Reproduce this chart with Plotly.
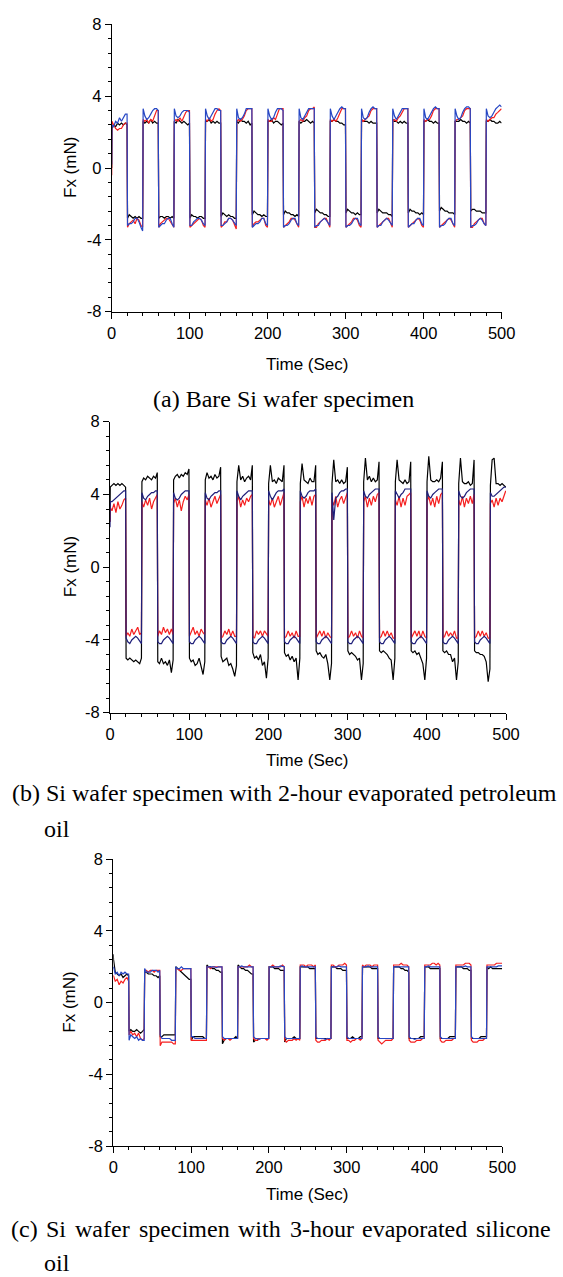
import plotly.graph_objects as go

W, H = 563, 1277

# ---------------- sample times (s) ----------------
time_s = [0,
    0.3, 2.5, 5, 7.5, 10, 12.5, 15, 17.5, 19.7,
    20.3, 22.5, 25, 27.5, 30, 32.5, 35, 37.5, 39.7,
    40.3, 42.5, 45, 47.5, 50, 52.5, 55, 57.5, 59.7,
    60.3, 62.5, 65, 67.5, 70, 72.5, 75, 77.5, 79.7,
    80.3, 82.5, 85, 87.5, 90, 92.5, 95, 97.5, 99.7,
    100.3, 102.5, 105, 107.5, 110, 112.5, 115, 117.5, 119.7,
    120.3, 122.5, 125, 127.5, 130, 132.5, 135, 137.5, 139.7,
    140.3, 142.5, 145, 147.5, 150, 152.5, 155, 157.5, 159.7,
    160.3, 162.5, 165, 167.5, 170, 172.5, 175, 177.5, 179.7,
    180.3, 182.5, 185, 187.5, 190, 192.5, 195, 197.5, 199.7,
    200.3, 202.5, 205, 207.5, 210, 212.5, 215, 217.5, 219.7,
    220.3, 222.5, 225, 227.5, 230, 232.5, 235, 237.5, 239.7,
    240.3, 242.5, 245, 247.5, 250, 252.5, 255, 257.5, 259.7,
    260.3, 262.5, 265, 267.5, 270, 272.5, 275, 277.5, 279.7,
    280.3, 282.5, 285, 287.5, 290, 292.5, 295, 297.5, 299.7,
    300.3, 302.5, 305, 307.5, 310, 312.5, 315, 317.5, 319.7,
    320.3, 322.5, 325, 327.5, 330, 332.5, 335, 337.5, 339.7,
    340.3, 342.5, 345, 347.5, 350, 352.5, 355, 357.5, 359.7,
    360.3, 362.5, 365, 367.5, 370, 372.5, 375, 377.5, 379.7,
    380.3, 382.5, 385, 387.5, 390, 392.5, 395, 397.5, 399.7,
    400.3, 402.5, 405, 407.5, 410, 412.5, 415, 417.5, 419.7,
    420.3, 422.5, 425, 427.5, 430, 432.5, 435, 437.5, 439.7,
    440.3, 442.5, 445, 447.5, 450, 452.5, 455, 457.5, 459.7,
    460.3, 462.5, 465, 467.5, 470, 472.5, 475, 477.5, 479.7,
    480.3, 482.5, 485, 487.5, 490, 492.5, 495, 497.5, 499.7]

# ---------------- (a) Bare Si wafer ----------------
a_black = [0.0,
    2.2, 2.4, 2.3, 2.5, 2.4, 2.5, 2.4, 2.5, 2.4,
    -2.8, -2.6, -2.7, -2.8, -2.7, -2.8, -2.7, -2.8, -2.8,
    2.6, 2.5, 2.6, 2.5, 2.7, 2.5, 2.6, 2.5, 2.5,
    -2.8, -2.7, -2.7, -2.8, -2.7, -2.7, -2.8, -2.7, -2.8,
    2.6, 2.5, 2.7, 2.6, 2.5, 2.6, 2.5, 2.4, 2.5,
    -2.8, -2.6, -2.7, -2.7, -2.8, -2.7, -2.7, -2.8, -2.8,
    2.6, 2.6, 2.7, 2.5, 2.6, 2.5, 2.6, 2.5, 2.5,
    -2.7, -2.5, -2.6, -2.7, -2.6, -2.7, -2.7, -2.8, -2.8,
    2.6, 2.5, 2.7, 2.6, 2.6, 2.5, 2.6, 2.4, 2.5,
    -2.6, -2.4, -2.5, -2.6, -2.6, -2.7, -2.6, -2.7, -2.7,
    2.6, 2.6, 2.7, 2.5, 2.6, 2.6, 2.5, 2.4, 2.5,
    -2.6, -2.4, -2.5, -2.5, -2.6, -2.6, -2.7, -2.6, -2.7,
    2.6, 2.5, 2.6, 2.6, 2.7, 2.6, 2.5, 2.6, 2.5,
    -2.5, -2.3, -2.4, -2.5, -2.5, -2.6, -2.6, -2.7, -2.7,
    2.6, 2.6, 2.7, 2.6, 2.6, 2.5, 2.5, 2.4, 2.4,
    -2.5, -2.3, -2.4, -2.5, -2.5, -2.6, -2.5, -2.6, -2.6,
    2.7, 2.6, 2.6, 2.6, 2.5, 2.6, 2.5, 2.5, 2.5,
    -2.5, -2.3, -2.4, -2.5, -2.5, -2.5, -2.6, -2.6, -2.7,
    2.7, 2.6, 2.6, 2.5, 2.6, 2.5, 2.6, 2.5, 2.5,
    -2.5, -2.3, -2.4, -2.4, -2.5, -2.5, -2.6, -2.5, -2.6,
    2.6, 2.6, 2.7, 2.6, 2.6, 2.5, 2.6, 2.5, 2.5,
    -2.4, -2.2, -2.3, -2.4, -2.4, -2.5, -2.5, -2.5, -2.6,
    2.6, 2.6, 2.6, 2.7, 2.6, 2.6, 2.5, 2.6, 2.5,
    -2.4, -2.3, -2.3, -2.4, -2.4, -2.4, -2.5, -2.5, -2.5,
    2.6, 2.6, 2.7, 2.6, 2.6, 2.5, 2.5, 2.6, 2.5]

a_red = [-0.4,
    2.6, 2.4, 2.2, 2.1, 2.2, 2.2, 2.4, 2.5, 2.5,
    -3.3, -3.1, -3.0, -2.9, -3.1, -2.8, -2.9, -3.2, -3.3,
    2.7, 2.6, 2.7, 2.5, 2.7, 2.6, 2.9, 3.2, 3.2,
    -3.3, -3.1, -3.0, -2.9, -2.8, -2.8, -3.0, -3.2, -3.3,
    2.6, 2.7, 2.6, 2.8, 2.6, 2.9, 3.1, 3.2, 3.2,
    -3.3, -3.2, -3.1, -3.0, -2.9, -2.8, -2.9, -3.2, -3.3,
    2.7, 2.6, 2.8, 2.6, 2.7, 3.0, 3.2, 3.3, 3.2,
    -3.3, -3.2, -3.0, -3.0, -2.8, -2.8, -2.9, -3.2, -3.4,
    2.6, 2.7, 2.6, 2.7, 2.9, 3.2, 3.3, 3.3, 3.3,
    -3.3, -3.1, -3.0, -3.0, -2.9, -2.8, -2.8, -3.2, -3.3,
    2.7, 2.6, 2.6, 2.8, 2.7, 3.0, 3.3, 3.3, 3.3,
    -3.3, -3.2, -3.1, -3.0, -2.8, -2.8, -2.9, -3.1, -3.3,
    2.6, 2.7, 2.6, 2.8, 2.9, 3.2, 3.3, 3.3, 3.4,
    -3.3, -3.3, -3.1, -3.0, -2.9, -2.8, -2.8, -3.1, -3.3,
    2.7, 2.6, 2.7, 2.6, 2.8, 3.1, 3.3, 3.3, 3.3,
    -3.3, -3.2, -3.1, -3.0, -2.8, -2.8, -2.9, -3.2, -3.3,
    2.7, 2.6, 2.7, 2.8, 2.9, 3.2, 3.3, 3.3, 3.3,
    -3.3, -3.2, -3.1, -3.0, -2.9, -2.8, -2.8, -3.1, -3.3,
    2.6, 2.7, 2.6, 2.8, 2.9, 3.1, 3.3, 3.3, 3.3,
    -3.3, -3.2, -3.1, -3.0, -2.9, -2.8, -2.9, -3.2, -3.3,
    2.7, 2.6, 2.7, 2.7, 2.9, 3.2, 3.3, 3.3, 3.3,
    -3.3, -3.2, -3.1, -3.0, -2.9, -2.8, -2.9, -3.1, -3.3,
    2.6, 2.7, 2.7, 2.8, 2.9, 3.2, 3.3, 3.3, 3.3,
    -3.3, -3.3, -3.1, -3.0, -2.9, -2.8, -2.8, -3.1, -3.2,
    2.7, 2.6, 2.7, 2.8, 2.8, 3.0, 3.1, 3.2, 3.3]

a_blue = [0.2,
    2.4, 2.3, 2.6, 2.5, 2.8, 2.6, 2.8, 3.0, 3.0,
    -3.2, -3.1, -3.1, -3.0, -2.8, -2.8, -3.0, -3.3, -3.5,
    3.3, 2.9, 2.7, 2.8, 3.0, 3.2, 3.3, 3.3, 3.2,
    -3.3, -3.2, -3.1, -3.1, -2.9, -2.8, -2.8, -3.1, -3.3,
    3.3, 2.9, 2.8, 2.9, 3.1, 3.2, 3.2, 3.2, 3.1,
    -3.2, -3.2, -3.0, -2.9, -2.8, -2.8, -2.9, -3.1, -3.2,
    3.3, 2.9, 2.7, 2.9, 3.1, 3.3, 3.3, 3.2, 3.2,
    -3.2, -3.2, -3.1, -3.0, -2.8, -2.8, -2.9, -3.1, -3.2,
    3.3, 2.8, 2.7, 2.8, 3.0, 3.3, 3.3, 3.3, 3.3,
    -3.3, -3.2, -3.1, -3.1, -3.0, -2.8, -2.8, -3.1, -3.2,
    3.3, 2.9, 2.7, 2.8, 3.1, 3.3, 3.3, 3.3, 3.2,
    -3.3, -3.2, -3.2, -3.1, -2.9, -2.8, -2.8, -3.1, -3.2,
    3.3, 2.8, 2.7, 2.9, 3.1, 3.3, 3.3, 3.3, 3.3,
    -3.3, -3.2, -3.2, -3.0, -2.9, -2.8, -2.9, -3.1, -3.2,
    3.3, 2.9, 2.7, 2.9, 3.1, 3.3, 3.4, 3.3, 3.3,
    -3.3, -3.2, -3.2, -3.1, -2.9, -2.8, -2.8, -3.1, -3.2,
    3.3, 2.8, 2.7, 2.8, 3.1, 3.3, 3.4, 3.3, 3.3,
    -3.3, -3.2, -3.2, -3.0, -2.9, -2.8, -2.9, -3.1, -3.2,
    3.3, 2.9, 2.7, 2.9, 3.1, 3.3, 3.3, 3.3, 3.3,
    -3.3, -3.2, -3.1, -3.1, -2.9, -2.8, -2.8, -3.1, -3.2,
    3.3, 2.8, 2.7, 2.9, 3.1, 3.3, 3.4, 3.3, 3.3,
    -3.3, -3.2, -3.2, -3.1, -2.9, -2.8, -2.8, -3.1, -3.2,
    3.3, 2.9, 2.7, 2.8, 3.1, 3.3, 3.4, 3.4, 3.3,
    -3.3, -3.2, -3.2, -3.1, -2.9, -2.8, -2.9, -3.1, -3.2,
    3.3, 2.9, 2.8, 2.9, 3.1, 3.3, 3.4, 3.5, 3.4]

# ---------------- (b) 2-hour evaporated petroleum oil ----------------
b_black = [2.5,
    4.4, 4.5, 4.6, 4.5, 4.6, 4.5, 4.6, 4.5, 4.4,
    -5.0, -5.1, -5.0, -5.1, -5.2, -5.1, -5.2, -5.3, -5.0,
    4.7, 4.9, 4.8, 5.0, 4.9, 4.8, 5.0, 4.9, 5.2,
    -5.2, -5.3, -5.0, -5.3, -5.2, -5.4, -5.1, -5.8, -5.1,
    4.8, 5.0, 5.1, 4.9, 5.1, 5.0, 5.2, 5.1, 5.4,
    -5.0, -5.2, -5.1, -5.4, -5.3, -5.0, -5.5, -5.9, -5.2,
    4.8, 5.2, 4.9, 5.0, 4.8, 5.1, 4.9, 5.0, 5.5,
    -4.9, -5.2, -5.1, -5.0, -5.4, -5.3, -5.6, -6.0, -5.4,
    4.7, 5.6, 4.8, 5.0, 4.7, 4.9, 5.0, 4.8, 5.6,
    -4.7, -5.0, -4.9, -5.1, -4.8, -5.4, -5.2, -6.1, -5.0,
    4.6, 5.6, 4.7, 4.8, 4.6, 4.9, 4.8, 4.7, 5.6,
    -4.7, -4.9, -4.8, -5.1, -4.9, -5.2, -5.0, -6.2, -5.0,
    4.6, 5.7, 4.8, 4.7, 4.6, 4.9, 4.7, 4.7, 5.6,
    -4.6, -4.8, -4.7, -4.9, -5.0, -4.8, -5.3, -6.2, -5.3,
    4.6, 5.9, 4.7, 4.8, 4.6, 4.8, 4.6, 4.7, 5.5,
    -4.6, -4.8, -4.7, -4.8, -4.9, -5.1, -5.0, -6.2, -5.3,
    4.7, 6.0, 4.8, 5.0, 4.7, 4.9, 4.7, 4.8, 5.8,
    -4.6, -4.7, -4.6, -4.7, -4.8, -5.0, -5.1, -6.2, -5.0,
    4.7, 5.9, 4.8, 4.7, 4.6, 4.8, 4.6, 4.7, 5.8,
    -4.6, -4.7, -4.6, -4.8, -4.7, -5.0, -5.3, -6.2, -5.0,
    4.7, 6.1, 4.8, 4.7, 4.7, 4.8, 4.7, 4.9, 5.8,
    -4.6, -4.7, -4.6, -4.8, -4.8, -5.2, -5.0, -6.2, -5.2,
    4.6, 6.0, 4.7, 4.6, 4.6, 4.7, 4.5, 4.6, 5.9,
    -4.6, -4.7, -4.7, -4.8, -4.8, -4.9, -5.2, -6.3, -5.6,
    4.5, 5.9, 6.0, 4.6, 4.6, 4.5, 4.6, 4.5, 4.4]

b_red = [2.5,
    3.3, 3.1, 3.5, 3.0, 3.6, 3.2, 3.4, 3.7, 3.8,
    -3.8, -3.6, -3.8, -3.4, -3.7, -3.5, -3.3, -3.7, -3.6,
    3.6, 3.3, 3.7, 3.4, 3.8, 3.2, 3.6, 3.8, 4.0,
    -3.8, -3.5, -3.7, -3.3, -3.6, -3.4, -3.7, -3.4, -3.7,
    3.5, 3.8, 3.3, 3.7, 3.1, 3.6, 3.9, 3.7, 4.0,
    -3.8, -3.6, -3.3, -3.7, -3.5, -3.8, -3.4, -3.6, -3.7,
    3.7, 3.4, 3.8, 3.3, 3.6, 3.9, 3.5, 3.8, 4.0,
    -3.9, -3.8, -3.5, -3.7, -3.4, -3.8, -3.5, -3.8, -3.8,
    3.6, 3.9, 3.3, 3.7, 3.4, 3.8, 3.6, 3.9, 4.0,
    -3.8, -3.9, -3.5, -3.7, -3.5, -3.8, -3.5, -3.7, -3.8,
    3.7, 3.4, 3.8, 3.3, 3.6, 3.9, 3.4, 3.8, 4.1,
    -3.9, -3.8, -3.5, -3.8, -3.6, -3.9, -3.5, -3.8, -3.8,
    3.6, 3.9, 3.3, 3.8, 3.5, 3.9, 3.4, 3.9, 4.0,
    -3.9, -3.7, -3.5, -3.8, -3.5, -3.9, -3.6, -3.8, -3.9,
    3.7, 3.4, 3.9, 3.3, 3.7, 3.9, 3.5, 3.9, 4.1,
    -3.9, -3.8, -3.5, -3.8, -3.6, -3.9, -3.5, -3.8, -3.9,
    3.6, 3.9, 3.3, 3.8, 3.4, 3.9, 3.6, 4.0, 4.1,
    -3.9, -3.8, -3.5, -3.8, -3.5, -3.8, -3.6, -3.9, -3.9,
    3.7, 3.4, 3.9, 3.3, 3.8, 3.4, 3.9, 4.0, 4.1,
    -3.9, -3.7, -3.5, -3.8, -3.5, -3.9, -3.5, -3.8, -3.9,
    3.6, 3.9, 3.4, 3.8, 3.3, 3.9, 3.5, 4.0, 4.1,
    -3.9, -3.8, -3.5, -3.8, -3.6, -3.8, -3.5, -3.9, -3.9,
    3.7, 3.4, 3.9, 3.3, 3.8, 3.5, 3.9, 3.5, 4.0,
    -3.9, -3.8, -3.5, -3.8, -3.5, -3.8, -3.6, -3.9, -3.9,
    3.5, 3.7, 3.3, 3.8, 3.4, 3.8, 3.6, 3.9, 4.2]

b_blue = [2.2,
    3.6, 3.6, 3.7, 3.8, 3.9, 4.0, 4.1, 4.2, 4.2,
    -3.9, -4.1, -4.2, -4.0, -3.9, -3.8, -3.9, -4.1, -4.2,
    4.1, 3.8, 3.7, 3.9, 4.0, 4.1, 4.1, 4.2, 4.2,
    -4.1, -4.2, -4.2, -4.0, -3.9, -3.8, -3.9, -4.1, -4.2,
    4.1, 3.8, 3.7, 3.8, 4.0, 4.1, 4.2, 4.2, 4.2,
    -4.1, -4.2, -4.2, -4.0, -3.9, -3.8, -3.9, -4.1, -4.2,
    4.1, 3.8, 3.7, 3.9, 4.0, 4.1, 4.1, 4.2, 4.2,
    -4.1, -4.2, -4.2, -4.0, -3.9, -3.8, -3.9, -4.1, -4.2,
    4.2, 3.9, 3.7, 3.9, 4.0, 4.1, 4.2, 4.2, 4.2,
    -4.1, -4.2, -4.2, -4.0, -3.9, -3.8, -3.9, -4.1, -4.2,
    4.2, 3.9, 3.7, 3.9, 4.1, 4.2, 4.2, 4.2, 4.3,
    -4.1, -4.2, -4.2, -4.0, -3.9, -3.8, -3.9, -4.1, -4.2,
    4.2, 3.9, 3.8, 3.9, 4.1, 4.2, 4.2, 4.2, 4.3,
    -4.1, -4.2, -4.2, -4.0, -3.9, -3.8, -3.9, -4.1, -4.2,
    4.1, 2.6, 3.8, 3.9, 4.1, 4.2, 4.2, 4.3, 4.3,
    -4.1, -4.2, -4.2, -4.0, -3.9, -3.8, -3.9, -4.1, -4.2,
    4.2, 3.9, 3.8, 4.0, 4.1, 4.2, 4.3, 4.3, 4.3,
    -4.1, -4.2, -4.2, -4.0, -3.9, -3.8, -3.9, -4.1, -4.2,
    4.2, 4.0, 3.8, 4.0, 4.1, 4.3, 4.3, 4.3, 4.3,
    -4.1, -4.2, -4.2, -4.0, -3.9, -3.8, -3.9, -4.1, -4.2,
    4.2, 3.9, 3.8, 4.0, 4.1, 4.2, 4.3, 4.3, 4.3,
    -4.1, -4.2, -4.2, -4.0, -3.9, -3.8, -3.9, -4.1, -4.2,
    4.2, 3.9, 3.8, 3.9, 4.1, 4.2, 4.3, 4.3, 4.3,
    -4.1, -4.2, -4.2, -4.0, -3.9, -3.8, -3.9, -4.1, -4.2,
    4.1, 3.9, 3.9, 4.0, 4.1, 4.2, 4.3, 4.4, 4.4]

# ---------------- (c) 3-hour evaporated silicone oil ----------------
c_black = [2.7,
    2.4, 1.7, 1.6, 1.5, 1.6, 1.4, 1.5, 1.6, 1.5,
    -1.6, -1.5, -1.6, -1.6, -1.5, -1.6, -1.7, -1.6, -1.5,
    1.7, 1.7, 1.6, 1.6, 1.6, 1.5, 1.5, 1.4, 1.5,
    -1.9, -1.9, -1.8, -1.8, -1.8, -1.8, -1.8, -1.8, -1.8,
    2.0, 1.9, 1.8, 1.7, 1.6, 1.5, 1.4, 1.3, 1.3,
    -2.1, -1.9, -1.9, -1.9, -1.9, -1.9, -1.9, -2.0, -2.0,
    2.1, 2.0, 2.0, 1.9, 1.9, 1.8, 1.8, 1.7, 1.7,
    -2.3, -2.1, -2.0, -2.0, -2.0, -2.0, -2.0, -1.9, -2.0,
    2.1, 2.0, 1.9, 1.9, 1.8, 1.8, 1.7, 1.6, 1.6,
    -2.2, -2.1, -2.1, -2.0, -2.0, -2.0, -2.0, -2.0, -2.0,
    2.0, 2.0, 2.0, 1.9, 1.9, 1.9, 1.8, 1.8, 1.8,
    -2.2, -2.0, -2.0, -2.0, -2.0, -1.9, -2.0, -2.0, -2.0,
    2.0, 2.0, 2.0, 2.0, 2.0, 1.9, 1.9, 1.9, 1.9,
    -2.0, -2.0, -2.0, -2.0, -2.0, -2.0, -2.0, -2.0, -2.0,
    2.0, 2.0, 2.0, 1.9, 1.9, 1.9, 1.8, 1.8, 1.8,
    -2.0, -2.0, -2.0, -1.9, -2.0, -2.0, -2.0, -1.9, -1.9,
    2.0, 2.0, 2.0, 2.0, 2.0, 1.9, 1.9, 1.9, 1.9,
    -2.0, -2.0, -2.0, -2.0, -2.0, -2.0, -2.0, -2.0, -2.0,
    2.0, 2.0, 2.0, 2.0, 1.9, 1.9, 1.8, 1.8, 1.7,
    -2.0, -2.0, -2.0, -2.0, -2.0, -2.0, -1.9, -1.9, -1.9,
    2.0, 2.0, 2.0, 1.9, 1.9, 1.9, 1.9, 1.9, 1.9,
    -2.0, -2.0, -2.0, -2.0, -2.0, -1.9, -1.9, -1.9, -1.9,
    2.0, 2.0, 2.0, 2.0, 1.9, 1.9, 1.9, 1.8, 1.8,
    -2.0, -2.0, -2.0, -2.0, -2.0, -1.9, -1.9, -1.9, -1.9,
    2.0, 1.9, 2.0, 1.9, 1.9, 1.9, 1.9, 1.9, 1.9]

c_red = [1.5,
    1.5, 1.2, 1.3, 1.0, 1.2, 1.1, 1.3, 1.4, 1.2,
    -1.8, -1.6, -1.8, -1.7, -1.9, -1.7, -2.0, -2.1, -2.0,
    1.8, 1.8, 1.7, 1.8, 1.8, 1.7, 1.8, 1.8, 1.8,
    -2.4, -2.2, -2.2, -2.2, -2.2, -2.2, -2.2, -2.3, -2.3,
    1.9, 1.9, 1.8, 1.8, 1.9, 1.9, 1.9, 1.9, 1.9,
    -2.1, -2.1, -2.1, -2.1, -2.1, -2.1, -2.1, -2.1, -2.1,
    2.0, 2.0, 1.9, 2.0, 2.0, 2.0, 2.0, 2.0, 2.0,
    -2.0, -2.1, -2.0, -2.0, -2.1, -2.0, -2.0, -2.0, -2.0,
    2.0, 2.0, 2.0, 2.0, 2.0, 2.0, 2.1, 2.0, 2.0,
    -2.0, -2.1, -2.1, -2.0, -2.0, -2.0, -2.0, -2.1, -2.0,
    2.0, 2.0, 2.1, 2.0, 2.0, 2.0, 2.0, 2.1, 2.0,
    -2.1, -2.2, -2.1, -2.1, -2.1, -2.0, -2.1, -2.0, -2.1,
    2.1, 2.1, 2.1, 2.0, 2.1, 2.1, 2.1, 2.0, 2.1,
    -2.1, -2.2, -2.2, -2.1, -2.1, -2.1, -2.0, -2.1, -2.0,
    2.1, 2.1, 2.0, 2.0, 2.1, 2.1, 2.1, 2.2, 2.1,
    -2.1, -2.1, -2.2, -2.1, -2.1, -2.0, -2.0, -2.1, -2.0,
    2.1, 2.0, 2.1, 2.1, 2.1, 2.0, 2.1, 2.1, 2.1,
    -2.1, -2.2, -2.3, -2.2, -2.1, -2.1, -2.1, -2.1, -2.0,
    2.1, 2.1, 2.1, 2.1, 2.2, 2.1, 2.1, 2.1, 2.0,
    -2.1, -2.2, -2.2, -2.2, -2.1, -2.1, -2.1, -2.0, -2.0,
    2.1, 2.1, 2.1, 2.1, 2.2, 2.2, 2.1, 2.2, 2.1,
    -2.1, -2.2, -2.2, -2.1, -2.1, -2.1, -2.1, -2.0, -2.0,
    2.1, 2.1, 2.1, 2.1, 2.1, 2.2, 2.2, 2.2, 2.1,
    -2.1, -2.2, -2.2, -2.2, -2.1, -2.1, -2.1, -2.0, -2.0,
    2.1, 2.1, 2.1, 2.1, 2.1, 2.2, 2.2, 2.2, 2.2]

c_blue = [1.9,
    2.0, 1.6, 1.7, 1.5, 1.7, 1.6, 1.7, 1.6, 1.6,
    -2.1, -1.8, -1.9, -2.0, -1.9, -2.1, -2.0, -2.1, -2.1,
    1.9, 1.7, 1.7, 1.7, 1.8, 1.8, 1.8, 1.7, 1.8,
    -1.8, -2.0, -2.0, -2.0, -2.0, -2.0, -2.1, -2.1, -2.1,
    2.0, 1.9, 1.9, 2.0, 1.9, 1.9, 1.9, 1.9, 1.9,
    -1.9, -1.9, -2.0, -2.0, -2.0, -2.0, -2.0, -2.0, -2.0,
    2.0, 2.0, 2.0, 2.0, 2.0, 1.95, 2.0, 2.0, 2.0,
    -1.9, -2.0, -2.0, -2.0, -2.0, -2.0, -2.0, -2.0, -2.0,
    2.0, 2.0, 2.05, 2.0, 2.0, 2.0, 2.0, 2.0, 2.0,
    -1.9, -2.0, -2.0, -2.05, -2.0, -2.0, -2.0, -2.0, -2.0,
    2.0, 2.0, 2.0, 2.0, 2.0, 2.0, 2.05, 2.0, 2.0,
    -1.9, -2.0, -2.0, -2.0, -2.0, -2.0, -2.0, -2.0, -2.0,
    2.0, 2.05, 2.0, 2.0, 2.0, 2.0, 2.0, 2.0, 2.0,
    -1.9, -2.0, -2.0, -2.0, -2.0, -2.05, -2.0, -2.0, -2.0,
    2.0, 2.0, 2.0, 2.0, 2.05, 2.0, 2.0, 2.0, 2.0,
    -1.9, -2.0, -2.0, -2.0, -2.0, -2.0, -2.0, -2.0, -2.0,
    2.0, 2.0, 2.0, 2.05, 2.0, 2.0, 2.0, 2.0, 2.0,
    -1.9, -2.0, -2.0, -2.0, -2.0, -2.0, -2.0, -2.0, -2.0,
    2.0, 2.0, 2.0, 2.0, 2.0, 2.0, 2.0, 2.0, 2.0,
    -1.9, -2.0, -2.0, -2.05, -2.0, -2.0, -2.0, -2.0, -2.0,
    2.0, 2.0, 2.05, 2.0, 2.0, 2.0, 2.0, 2.0, 2.0,
    -1.9, -2.0, -2.0, -2.0, -2.0, -2.0, -2.0, -2.0, -2.0,
    2.0, 2.0, 2.0, 2.0, 2.0, 2.05, 2.0, 2.0, 2.0,
    -1.9, -2.0, -2.0, -2.0, -2.0, -2.0, -2.0, -2.0, -2.0,
    2.0, 2.0, 2.0, 2.0, 2.0, 2.0, 2.05, 2.05, 2.05]

x_ticks = [0, 100, 200, 300, 400, 500]
y_ticks = [-8, -4, 0, 4, 8]

captions = ["(a) Bare Si wafer specimen",
            "(b) Si wafer specimen with 2-hour evaporated petroleum",
            "(c) Si wafer specimen with 3-hour evaporated silicone",
            "oil"]
x_title = "Time (Sec)"
y_title = "Fx (mN)"

for s in (a_black, a_red, a_blue, b_black, b_red, b_blue, c_black, c_red, c_blue):
    assert len(s) == len(time_s), len(s)

# ---------------- layout helpers (pixel -> paper) ----------------
def px(x):
    return x / W

def py(y):
    return 1 - y / H

RED = "#f51f1f"
BLUE_AC = "#2747c4"
BLUE_B = "#1f1f7a"

panels = [
    # (x0, x1, ytop, ybottom, series, blue colour, x-title gap)
    (111.7, 501.7, 24.3, 311.7, (a_black, a_red, a_blue), BLUE_AC, 53),
    (110.0, 506.0, 421.7, 712.7, (b_black, b_red, b_blue), BLUE_B, 48),
    (113.3, 502.3, 859.3, 1146.0, (c_black, c_red, c_blue), BLUE_AC, 48),
]

fig = go.Figure()
SANS = "Liberation Sans, Arial, sans-serif"
SERIF = "Liberation Serif, Times New Roman, serif"

annotations = []
for i, (x0, x1, yt, yb, (s_bk, s_rd, s_bl), blue, tgap) in enumerate(panels):
    n = "" if i == 0 else str(i + 1)
    xa, ya = "x" + n, "y" + n
    for series, col in ((s_bk, "#000000"), (s_rd, RED), (s_bl, blue)):
        fig.add_trace(go.Scatter(x=time_s, y=series, mode="lines",
                                 line=dict(color=col, width=1.2),
                                 xaxis=xa, yaxis=ya, showlegend=False,
                                 hoverinfo="skip"))
    common = dict(showline=True, linecolor="black", linewidth=1,
                  ticks="outside", ticklen=6, tickwidth=1, tickcolor="black",
                  showgrid=False, zeroline=False, automargin=False,
                  tickfont=dict(family=SANS, size=16.5, color="black"))
    fig.layout["xaxis" + n] = dict(
        domain=[px(x0), px(x1)], anchor=ya, range=[0, 500],
        tickmode="array", tickvals=x_ticks, ticktext=[str(v) for v in x_ticks],
        minor=dict(ticks="outside", ticklen=3, tickwidth=1, tickcolor="black",
                   dtick=20, tick0=0, showgrid=False),
        **common)
    fig.layout["yaxis" + n] = dict(
        domain=[py(yb), py(yt)], anchor=xa, range=[-8, 8],
        tickmode="array", tickvals=y_ticks, ticktext=[str(v) for v in y_ticks],
        minor=dict(ticks="outside", ticklen=3, tickwidth=1, tickcolor="black",
                   dtick=0.8, tick0=0, showgrid=False),
        **common)
    # axis titles
    annotations.append(dict(x=px(70), y=py((yt + yb) / 2), xref="paper", yref="paper",
                            text=y_title, textangle=-90, showarrow=False,
                            xanchor="center", yanchor="middle",
                            font=dict(family=SANS, size=17, color="black")))
    annotations.append(dict(x=px(307.5), y=py(yb + tgap), xref="paper", yref="paper",
                            text=x_title, showarrow=False,
                            xanchor="center", yanchor="middle",
                            font=dict(family=SANS, size=17, color="black")))

cap_font = dict(family=SERIF, size=24, color="black")
# caption (a), centred
annotations.append(dict(x=px(283.5), y=py(399), xref="paper", yref="paper",
                        text=captions[0], showarrow=False, xanchor="center",
                        yanchor="middle", font=cap_font))
# caption (b)
annotations.append(dict(x=px(11), y=py(793), xref="paper", yref="paper",
                        text=captions[1], showarrow=False, xanchor="left",
                        yanchor="middle", font=cap_font))
annotations.append(dict(x=px(43), y=py(829), xref="paper", yref="paper",
                        text=captions[3], showarrow=False, xanchor="left",
                        yanchor="middle", font=cap_font))
# caption (c), justified word by word
c_words = captions[2].split(" ")
c_lefts = [10, 45.4, 74.2, 137.6, 237.0, 288.5, 361.3, 475.4]
for w, xl in zip(c_words, c_lefts):
    annotations.append(dict(x=px(xl), y=py(1229), xref="paper", yref="paper",
                            text=w, showarrow=False, xanchor="left",
                            yanchor="middle", font=cap_font))
annotations.append(dict(x=px(43), y=py(1263), xref="paper", yref="paper",
                        text=captions[3], showarrow=False, xanchor="left",
                        yanchor="middle", font=cap_font))

fig.update_layout(width=W, height=H,
                  margin=dict(l=0, r=0, t=0, b=0, pad=0, autoexpand=False),
                  paper_bgcolor="white", plot_bgcolor="white",
                  annotations=annotations)
for a in fig.layout.annotations:
    a.update(borderpad=0)

fig.write_html("out.html")
